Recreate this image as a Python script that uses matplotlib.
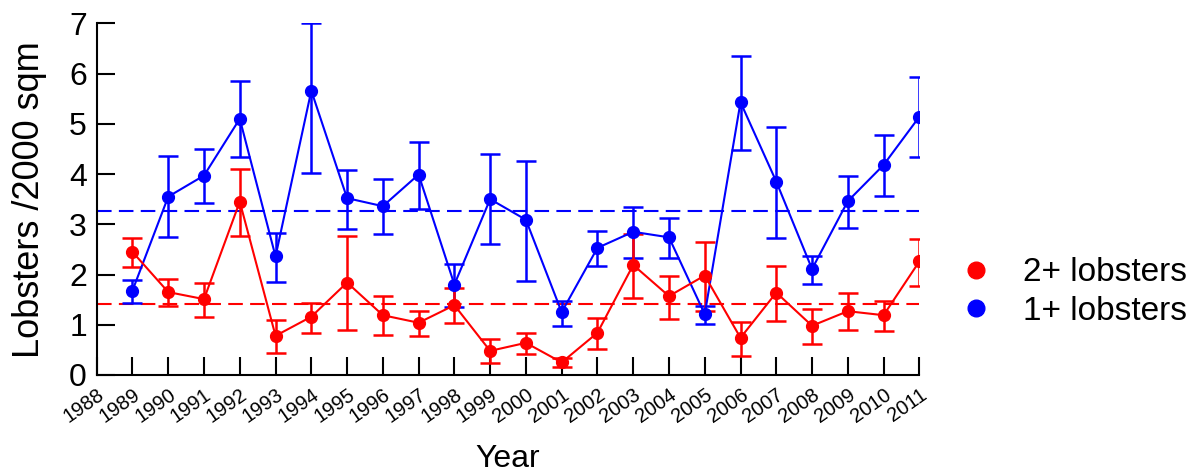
import matplotlib
matplotlib.use("Agg")
import matplotlib.pyplot as plt
import numpy as np
from matplotlib.lines import Line2D

plt.rcParams['font.family'] = ['Liberation Sans', 'DejaVu Sans']

years = [1989, 1990, 1991, 1992, 1993, 1994, 1995, 1996, 1997, 1998, 1999, 2000,
         2001, 2002, 2003, 2004, 2005, 2006, 2007, 2008, 2009, 2010, 2011]

two_plus = [2.45, 1.65, 1.51, 3.45, 0.78, 1.16, 1.84, 1.19, 1.04, 1.39, 0.48, 0.64,
            0.25, 0.84, 2.19, 1.57, 1.98, 0.74, 1.64, 0.98, 1.27, 1.19, 2.26]
two_plus_hi = [2.73, 1.92, 1.84, 4.10, 1.09, 1.43, 2.77, 1.58, 1.28, 1.74, 0.71, 0.84,
               0.33, 1.13, 2.80, 1.97, 2.65, 1.05, 2.16, 1.31, 1.64, 1.48, 2.71]
two_plus_lo = [2.14, 1.37, 1.16, 2.77, 0.44, 0.84, 0.90, 0.80, 0.78, 1.03, 0.23, 0.41,
               0.15, 0.52, 1.54, 1.11, 1.27, 0.38, 1.08, 0.62, 0.90, 0.88, 1.78]

one_plus = [1.68, 3.55, 3.97, 5.10, 2.36, 5.66, 3.52, 3.36, 3.99, 1.80, 3.50, 3.09,
            1.25, 2.53, 2.85, 2.74, 1.21, 5.43, 3.85, 2.11, 3.46, 4.18, 5.14]
one_plus_hi = [1.90, 4.35, 4.49, 5.86, 2.83, 7.00, 4.09, 3.91, 4.64, 2.21, 4.39, 4.26,
               1.48, 2.87, 3.35, 3.13, 1.38, 6.35, 4.94, 2.37, 3.97, 4.78, 5.94]
one_plus_lo = [1.43, 2.75, 3.42, 4.33, 1.86, 4.03, 2.91, 2.80, 3.30, 1.36, 2.60, 1.88,
               0.98, 2.17, 2.32, 2.32, 1.02, 4.48, 2.73, 1.81, 2.93, 3.56, 4.33]

mean_two_plus = 1.41
mean_one_plus = 3.27

tick_years = list(range(1988, 2012))
y_ticks = [0, 1, 2, 3, 4, 5, 6, 7]

RED = '#ff0000'
BLUE = '#0000ff'

fig = plt.figure(figsize=(11.91, 4.73), dpi=100)
ax = fig.add_axes([0.0812, 0.2072, 0.6907, 0.7435])

def draw(vals, lo, hi, color, label):
    vals = np.array(vals); lo = np.array(lo); hi = np.array(hi)
    err = np.vstack([vals - lo, hi - vals])
    ax.errorbar(years, vals, yerr=err, color=color, lw=1.5, elinewidth=1.8,
                capsize=7.5, capthick=1.8, marker='o', markersize=8.5,
                label=label, zorder=3)

ax.axhline(mean_one_plus, color=BLUE, lw=1.5, dashes=(7, 3.5), zorder=2)
ax.axhline(mean_two_plus, color=RED, lw=1.5, dashes=(7, 3.5), zorder=2)

draw(one_plus, one_plus_lo, one_plus_hi, BLUE, '1+ lobsters')
draw(two_plus, two_plus_lo, two_plus_hi, RED, '2+ lobsters')

ax.set_xlim(1988, 2011)
ax.set_ylim(0, 7)
ax.set_xticks(tick_years)
ax.set_xticklabels([str(y) for y in tick_years], rotation=35, ha='right',
                   rotation_mode='anchor', fontsize=14.5)
ax.set_yticks(y_ticks)
ax.set_yticklabels([str(v) for v in y_ticks], fontsize=23)
ax.tick_params(axis='both', direction='in', length=13, width=1.5, color='black')
ax.tick_params(axis='y', pad=7)
ax.tick_params(axis='x', pad=7)

for s in ['top', 'right']:
    ax.spines[s].set_visible(False)
for s in ['left', 'bottom']:
    ax.spines[s].set_linewidth(1.5)

ax.set_ylabel('Lobsters /2000 sqm', fontsize=26, labelpad=16)
ax.set_xlabel('Year', fontsize=23, labelpad=13)

handles = [Line2D([], [], color=RED, marker='o', linestyle='none', markersize=12),
           Line2D([], [], color=BLUE, marker='o', linestyle='none', markersize=12)]
fig.legend(handles, ['2+ lobsters', '1+ lobsters'], loc='center left',
           bbox_to_anchor=(0.80, 0.383), frameon=False, fontsize=24,
           handlelength=1.0, handletextpad=0.9, labelspacing=0.22,
           borderpad=0.2, borderaxespad=0)

fig.savefig('out.png', dpi=100)
